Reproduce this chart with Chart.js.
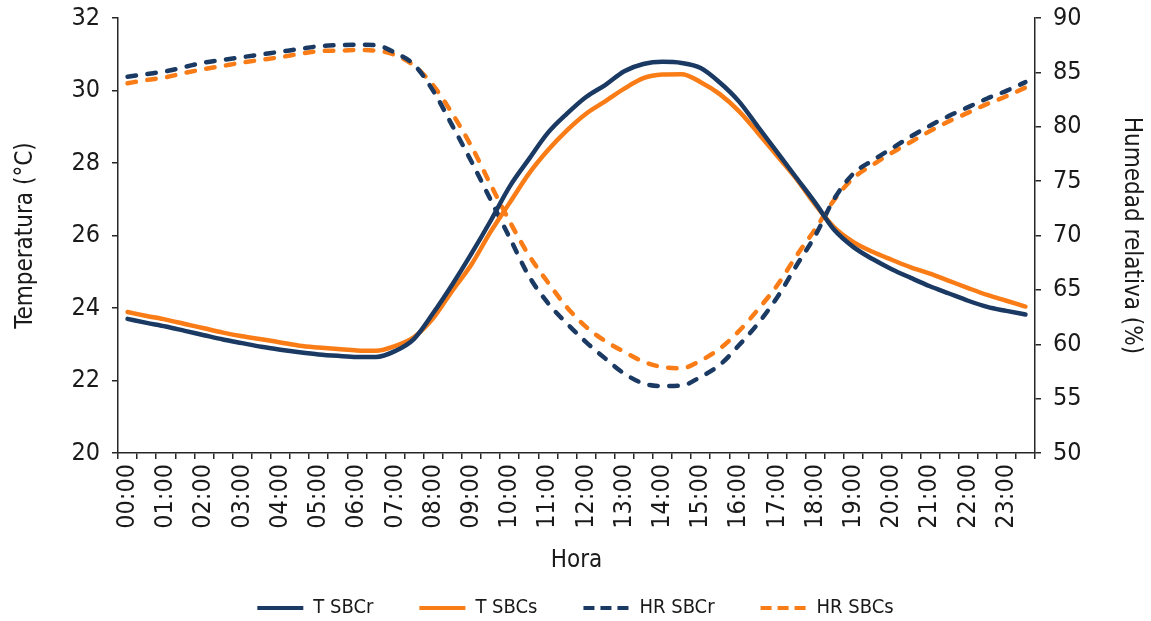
<!DOCTYPE html>
<html>
<head>
<meta charset="utf-8">
<script src="https://cdn.jsdelivr.net/npm/chart.js@4.4.1/dist/chart.umd.min.js"></script>
<style>
  html, body { margin: 0; padding: 0; background: #ffffff; }
  #wrap { width: 1151px; height: 621px; }
</style>
</head>
<body>
<div id="wrap"><canvas id="chart" width="1151" height="621"></canvas></div>
<script>
// Half-hourly readings over one day
const halfHours = [
  '00:00','00:30','01:00','01:30','02:00','02:30','03:00','03:30',
  '04:00','04:30','05:00','05:30','06:00','06:30','07:00','07:30',
  '08:00','08:30','09:00','09:30','10:00','10:30','11:00','11:30',
  '12:00','12:30','13:00','13:30','14:00','14:30','15:00','15:30',
  '16:00','16:30','17:00','17:30','18:00','18:30','19:00','19:30',
  '20:00','20:30','21:00','21:30','22:00','22:30','23:00','23:30'
];

// Labels printed under the axis (one per hour)
const hourLabels = [
  '00:00','01:00','02:00','03:00','04:00','05:00','06:00','07:00',
  '08:00','09:00','10:00','11:00','12:00','13:00','14:00','15:00',
  '16:00','17:00','18:00','19:00','20:00','21:00','22:00','23:00'
];

// Temperature (°C)
const tSBCr = [
  23.70, 23.59, 23.49, 23.37, 23.25, 23.13, 23.03, 22.93,
  22.85, 22.78, 22.72, 22.68, 22.65, 22.65, 22.81, 23.15,
  23.86, 24.65, 25.50, 26.40, 27.35, 28.10, 28.83, 29.36,
  29.82, 30.15, 30.53, 30.73, 30.79, 30.76, 30.62, 30.22,
  29.70, 29.00, 28.30, 27.60, 26.90, 26.15, 25.68, 25.35,
  25.07, 24.83, 24.60, 24.40, 24.20, 24.03, 23.92, 23.82
];
const tSBCs = [
  23.89, 23.78, 23.68, 23.56, 23.44, 23.32, 23.22, 23.14,
  23.05, 22.96, 22.91, 22.87, 22.83, 22.82, 22.95, 23.20,
  23.72, 24.48, 25.20, 26.10, 26.90, 27.70, 28.35, 28.90,
  29.36, 29.70, 30.05, 30.34, 30.44, 30.45, 30.23, 29.90,
  29.43, 28.83, 28.20, 27.57, 26.85, 26.22, 25.82, 25.55,
  25.33, 25.12, 24.95, 24.75, 24.55, 24.36, 24.20, 24.04
];

// Relative humidity (%)
const hrSBCr = [
  84.6, 84.85, 85.1, 85.5, 85.9, 86.15, 86.4, 86.65,
  86.9, 87.15, 87.4, 87.5, 87.55, 87.5, 86.8, 85.7,
  83.3, 80.1, 76.8, 73.3, 69.8, 66.3, 63.8, 61.9,
  60.2, 58.7, 57.3, 56.4, 56.15, 56.2, 57.0, 58.1,
  59.9, 61.9, 64.3, 67.2, 70.0, 73.4, 75.7, 76.9,
  78.0, 79.1, 80.1, 81.0, 81.8, 82.6, 83.3, 84.1
];
const hrSBCs = [
  84.0, 84.3, 84.55, 84.95, 85.3, 85.6, 85.9, 86.15,
  86.4, 86.7, 86.95, 87.0, 87.05, 87.0, 86.6, 85.6,
  83.8, 81.2, 78.2, 74.7, 71.3, 68.2, 65.7, 63.4,
  61.6, 60.3, 59.3, 58.4, 57.9, 57.8, 58.5, 59.6,
  61.2, 63.2, 65.4, 68.1, 70.6, 73.3, 75.3, 76.5,
  77.6, 78.6, 79.6, 80.5, 81.3, 82.1, 82.8, 83.6
];

const NAVY = '#1b3a63';
const ORANGE = '#f97c16';
const AXIS = '#262626';
const TEXT = '#1a1a1a';
const FONT = '"Liberation Sans Narrow", "DejaVu Sans Condensed", "Open Sans", sans-serif';

const LEGEND_PAD = 46;

// The legend keeps wide gaps between entries but a short box; stretch its box
// upward so the single row is drawn (and clipped) inside the bottom strip
const legendNudge = {
  id: 'legendNudge',
  afterUpdate(chart) {
    const lg = chart.legend;
    if (lg) { lg.top -= 29; lg.bottom = chart.height; }
  }
};

// Drop the extra space reserved for half tick labels above/below the axes
function trimPadding(s) {
  s.paddingTop = 0;
  s.paddingBottom = 0;
}

function lineSet(label, data, color, axis, dashed) {
  return {
    label, data, yAxisID: axis,
    borderColor: color, backgroundColor: color,
    borderWidth: 4.5,
    borderDash: dashed ? [8.5, 11.5] : [],
    borderCapStyle: 'round',
    borderJoinStyle: 'round',
    pointRadius: 0, pointHoverRadius: 0,
    cubicInterpolationMode: 'monotone',
    fill: false
  };
}

new Chart(document.getElementById('chart'), {
  type: 'line',
  data: {
    labels: halfHours,
    datasets: [
      lineSet('T SBCr', tSBCr, NAVY, 'y', false),
      lineSet('T SBCs', tSBCs, ORANGE, 'y', false),
      lineSet('HR SBCr', hrSBCr, NAVY, 'y1', true),
      lineSet('HR SBCs', hrSBCs, ORANGE, 'y1', true)
    ]
  },
  options: {
    responsive: false,
    animation: false,
    events: [],
    layout: { padding: { top: 18, left: 0, right: 0, bottom: 0 } },
    plugins: {
      tooltip: { enabled: false },
      legend: {
        position: 'bottom',
        maxHeight: 40,
        labels: {
          usePointStyle: true,
          pointStyle: 'line',
          pointStyleWidth: 46,
          padding: LEGEND_PAD,
          color: TEXT,
          font: { family: FONT, size: 20 },
          generateLabels(chart) {
            const items = Chart.defaults.plugins.legend.labels.generateLabels(chart);
            items.forEach((it) => {
              const ds = chart.data.datasets[it.datasetIndex];
              it.strokeStyle = ds.borderColor;
              it.fillStyle = ds.borderColor;
              it.lineWidth = 4;
              it.lineCap = 'butt';
              it.lineDash = ds.borderDash.length ? [11, 6] : [];
            });
            return items;
          }
        }
      }
    },
    scales: {
      x: {
        type: 'category',
        offset: true,
        grid: { display: true, drawOnChartArea: false, drawTicks: true, tickLength: 6, offset: true, color: AXIS, lineWidth: 1.5 },
        border: { display: true, color: AXIS, width: 1.5 },
        ticks: {
          autoSkip: false, minRotation: 90, maxRotation: 90, padding: 5,
          color: TEXT, font: { family: FONT, size: 25 },
          callback: (v, i) => (i % 2 === 0 ? hourLabels[i / 2] : '')
        },
        title: { display: true, text: 'Hora', color: TEXT, font: { family: FONT, size: 24 }, padding: { top: 0, bottom: 6 } },
        afterFit: (s) => { s.height = 128; }
      },
      y: {
        position: 'left',
        min: 20, max: 32,
        grid: { drawOnChartArea: false, drawTicks: true, tickLength: 6, color: AXIS, lineWidth: 1.5 },
        border: { display: true, color: AXIS, width: 1.5 },
        ticks: { stepSize: 2, padding: 12, color: TEXT, font: { family: FONT, size: 25 } },
        title: { display: true, text: 'Temperatura (°C)', color: TEXT, font: { family: FONT, size: 24 }, padding: { top: 11, bottom: 0 } },
        afterFit: (s) => { s.width = 118; trimPadding(s); }
      },
      y1: {
        position: 'right',
        min: 50, max: 90,
        grid: { drawOnChartArea: false, drawTicks: true, tickLength: 6, color: AXIS, lineWidth: 1.5 },
        border: { display: true, color: AXIS, width: 1.5 },
        ticks: { stepSize: 5, padding: 12, color: TEXT, font: { family: FONT, size: 25 } },
        title: { display: true, text: 'Humedad relativa (%)', color: TEXT, font: { family: FONT, size: 24 }, padding: { top: 5, bottom: 0 } },
        afterFit: (s) => { s.width = 116; trimPadding(s); }
      }
    }
  },
  plugins: [legendNudge]
});
</script>
</body>
</html>
